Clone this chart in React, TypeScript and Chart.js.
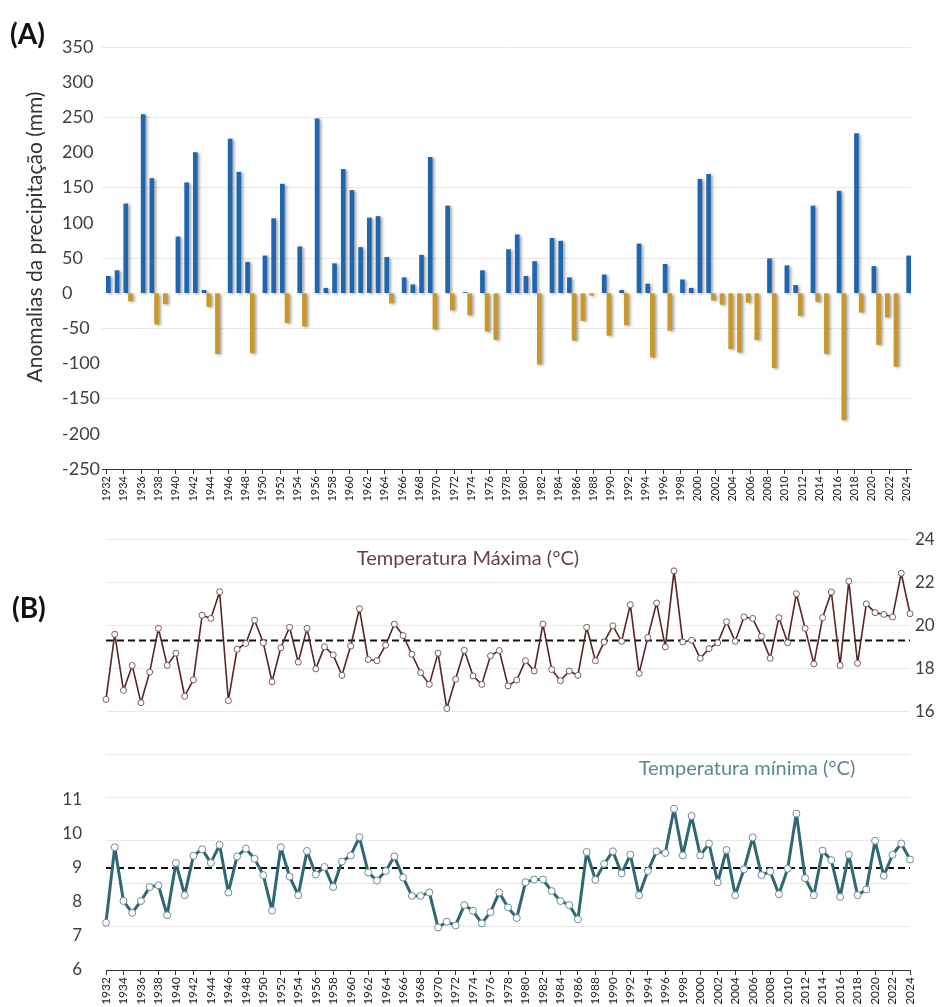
import React, { useEffect, useRef } from 'react';
import { Chart, registerables } from 'chart.js';

Chart.register(...registerables);

const FIRST_YEAR = 1932;
const LAST_YEAR = 2024;
const years: string[] = [];
for (let y = FIRST_YEAR; y <= LAST_YEAR; y++) years.push(String(y));

// Precipitation anomalies (mm), 1932..2024
const precipAnomaly = [
  24, 32, 127, -11, 254, 163, -44, -15, 80, 157,
  200, 4, -19, -86, 219, 172, 44, -85, 53, 106,
  155, -42, 66, -47, 248, 7, 42, 176, 146, 65,
  107, 109, 51, -14, 22, 12, 54, 193, -51, 124,
  -24, 1, -31, 32, -54, -66, 62, 83, 24, 45,
  -101, 78, 74, 22, -67, -39, -3, 26, -60, 4,
  -45, 70, 13, -91, 41, -53, 19, 7, 162, 169,
  -10, -16, -79, -84, -13, -66, 49, -106, 39, 11,
  -32, 124, -12, -86, 145, -180, 227, -27, 38, -73,
  -34, -104, 53,
];

// Maximum temperature (°C), 1932..2024
const tempMax = [
  16.56, 19.59, 16.98, 18.14, 16.41, 17.83, 19.86, 18.14, 18.71, 16.71,
  17.47, 20.47, 20.32, 21.56, 16.51, 18.89, 19.16, 20.24, 19.19, 17.38,
  18.96, 19.91, 18.29, 19.86, 17.98, 19.0, 18.63, 17.68, 19.04, 20.77,
  18.41, 18.36, 19.08, 20.06, 19.53, 18.66, 17.8, 17.26, 18.71, 16.14,
  17.5, 18.84, 17.65, 17.26, 18.59, 18.83, 17.19, 17.46, 18.36, 17.88,
  20.06, 17.95, 17.43, 17.88, 17.68, 19.91, 18.36, 19.23, 19.98, 19.26,
  20.96, 17.77, 19.44, 21.04, 19.0, 22.53, 19.23, 19.31, 18.47, 18.92,
  19.19, 20.17, 19.26, 20.39, 20.32, 19.49, 18.47, 20.36, 19.19, 21.47,
  19.86, 18.21, 20.36, 21.55, 18.14, 22.05, 18.24, 21.0, 20.59, 20.51,
  20.39, 22.42, 20.54,
];

// Minimum temperature (°C), 1932..2024
const tempMin = [
  7.39, 9.61, 8.03, 7.68, 8.03, 8.44, 8.49, 7.61, 9.15, 8.2,
  9.36, 9.55, 9.15, 9.68, 8.28, 9.34, 9.57, 9.27, 8.79, 7.75,
  9.61, 8.75, 8.2, 9.5, 8.81, 9.03, 8.44, 9.19, 9.37, 9.91,
  8.87, 8.63, 8.91, 9.34, 8.72, 8.18, 8.18, 8.28, 7.25, 7.42,
  7.31, 7.91, 7.74, 7.37, 7.7, 8.28, 7.84, 7.53, 8.58, 8.66,
  8.66, 8.32, 8.03, 7.91, 7.49, 9.47, 8.65, 9.12, 9.49, 8.84,
  9.39, 8.2, 8.91, 9.49, 9.44, 10.74, 9.37, 10.53, 9.37, 9.72,
  8.58, 9.53, 8.2, 8.96, 9.9, 8.79, 8.9, 8.23, 8.98, 10.6,
  8.7, 8.2, 9.51, 9.23, 8.15, 9.39, 8.2, 8.37, 9.8, 8.77,
  9.39, 9.72, 9.25,
];

const TMAX_MEAN = 19.3;
const TMIN_MEAN = 9.0;

const precipTickMin = -250;
const precipTickMax = 350;
const precipTickStep = 50;
const tmaxTickMin = 4;
const tmaxTickMax = 24;
const tmaxLabelFrom = 16;
const tminTickMin = 6;
const tminLabelTo = 11;

const BLUE = '#1f66b0';
const GOLD = '#c8982a';
const MAX_LINE = '#5a2424';
const MIN_LINE = '#2f6874';
const FONT = 'Lato, "Open Sans", sans-serif';

const barShadow = {
  id: 'barShadow',
  beforeDatasetsDraw(chart: any) {
    const ctx = chart.ctx;
    ctx.save();
    ctx.shadowColor = 'rgba(0,0,0,0.35)';
    ctx.shadowBlur = 3;
    ctx.shadowOffsetX = 2;
    ctx.shadowOffsetY = 1;
  },
  afterDatasetsDraw(chart: any) {
    chart.ctx.restore();
  },
};

const meanLines = {
  id: 'meanLines',
  beforeDatasetsDraw(chart: any) {
    const { ctx, chartArea } = chart;
    const draw = (id: string, v: number) => {
      const y = chart.scales[id].getPixelForValue(v);
      ctx.save();
      ctx.setLineDash([7, 4]);
      ctx.lineWidth = 2;
      ctx.strokeStyle = '#111';
      ctx.beginPath();
      ctx.moveTo(chartArea.left, y);
      ctx.lineTo(chartArea.right, y);
      ctx.stroke();
      ctx.restore();
    };
    draw('yR', TMAX_MEAN);
    draw('yL', TMIN_MEAN);
  },
};

const evenYearsOnly = (s: any) => {
  s.ticks = s.ticks.filter((t: any) => t.value % 2 === 0);
};

export default function App() {
  const refA = useRef<HTMLCanvasElement>(null);
  const refB = useRef<HTMLCanvasElement>(null);

  useEffect(() => {
    const negData = precipAnomaly.map((v) => (v < 0 ? v : null));
    const posData = precipAnomaly.map((v) => (v >= 0 ? v : null));

    const chartA = new Chart(refA.current as HTMLCanvasElement, {
      type: 'bar',
      data: {
        labels: years,
        datasets: [
          { label: 'neg', data: negData as any, backgroundColor: GOLD, barThickness: 4, borderWidth: 0 },
          { label: 'pos', data: posData as any, backgroundColor: BLUE, barThickness: 4, borderWidth: 0 },
        ],
      },
      options: {
        responsive: false,
        animation: false,
        layout: { padding: { left: 62, right: 34, top: 47, bottom: 0 } },
        plugins: { legend: { display: false }, tooltip: { enabled: false } },
        scales: {
          x: {
            offset: true,
            grid: { drawOnChartArea: false, offset: false, tickLength: 5, tickColor: '#333' },
            border: { display: true, color: '#333', width: 1 },
            ticks: {
              autoSkip: false,
              maxRotation: 90,
              minRotation: 90,
              padding: 2,
              color: '#222',
              font: { family: FONT, size: 11 },
            },
            afterBuildTicks: evenYearsOnly,
            afterFit: (s: any) => { s.height = 36; },
          },
          y: {
            min: precipTickMin,
            max: precipTickMax,
            ticks: {
              stepSize: precipTickStep,
              crossAlign: 'far',
              color: '#404040',
              font: { family: FONT, size: 18 },
            },
            grid: {
              drawTicks: false,
              color: (c: any) => ((c.tick.value - precipTickMin) % 100 === 0 ? '#e8e8e8' : 'rgba(0,0,0,0)'),
            },
            border: { display: false },
            afterFit: (s: any) => { s.width = 40; },
          },
        },
      },
      plugins: [barShadow],
    });

    const chartB = new Chart(refB.current as HTMLCanvasElement, {
      type: 'line',
      data: {
        labels: years,
        datasets: [
          {
            label: 'Temperatura Máxima (°C)',
            data: tempMax,
            yAxisID: 'yR',
            borderColor: MAX_LINE,
            borderWidth: 1.6,
            borderJoinStyle: 'round',
            pointRadius: 3,
            pointBackgroundColor: '#ffffff',
            pointBorderColor: '#7a5a5a',
            pointBorderWidth: 1,
            tension: 0,
            clip: false as any,
          },
          {
            label: 'Temperatura mínima (°C)',
            data: tempMin,
            yAxisID: 'yL',
            borderColor: MIN_LINE,
            borderWidth: 3,
            borderJoinStyle: 'round',
            pointRadius: 3.5,
            pointBackgroundColor: '#ffffff',
            pointBorderColor: '#6a8d95',
            pointBorderWidth: 1,
            tension: 0,
            clip: false as any,
          },
        ],
      },
      options: {
        responsive: false,
        animation: false,
        layout: { padding: { left: 0, right: 0, top: 22, bottom: 0 } },
        plugins: { legend: { display: false }, tooltip: { enabled: false } },
        scales: {
          x: {
            offset: false,
            grid: { drawOnChartArea: false, tickLength: 5, tickColor: '#333' },
            border: { display: true, color: '#333', width: 1 },
            ticks: {
              autoSkip: false,
              maxRotation: 90,
              minRotation: 90,
              padding: 2,
              color: '#222',
              font: { family: FONT, size: 12 },
            },
            afterBuildTicks: evenYearsOnly,
            afterFit: (s: any) => { s.height = 37; },
          },
          yL: {
            position: 'left',
            min: tminTickMin,
            max: 18.67,
            ticks: {
              stepSize: 1,
              padding: 24,
              color: '#404040',
              font: { family: FONT, size: 17 },
              callback: (v: any) => (v <= tminLabelTo && Number.isInteger(v) ? String(v) : ''),
            },
            grid: { display: false, drawTicks: false },
            border: { display: false },
            afterFit: (s: any) => { s.width = 106; },
          },
          yR: {
            position: 'right',
            min: tmaxTickMin,
            max: tmaxTickMax,
            ticks: {
              stepSize: 2,
              padding: 5,
              color: '#404040',
              font: { family: FONT, size: 17 },
              callback: (v: any) => (v >= tmaxLabelFrom ? String(v) : ''),
            },
            grid: {
              drawTicks: false,
              color: (c: any) => (c.tick.value > tmaxTickMin ? '#e8e8e8' : 'rgba(0,0,0,0)'),
            },
            border: { display: false },
            afterFit: (s: any) => { s.width = 35; },
          },
        },
      },
      plugins: [meanLines],
    });

    return () => {
      chartA.destroy();
      chartB.destroy();
    };
  }, []);

  const abs = (extra: React.CSSProperties): React.CSSProperties => ({
    position: 'absolute',
    whiteSpace: 'nowrap',
    fontFamily: FONT,
    ...extra,
  });

  return (
    <div style={{ position: 'absolute', left: 0, top: 0, width: 945, height: 1007, background: '#fff', overflow: 'hidden' }}>
      <canvas ref={refA} width={945} height={505} style={{ position: 'absolute', left: 0, top: 0 }} />
      <canvas ref={refB} width={945} height={502} style={{ position: 'absolute', left: 0, top: 505 }} />
      <div style={abs({ left: 10, top: 16, fontSize: 28, fontWeight: 700, color: '#111' })}>(A)</div>
      <div style={abs({ left: 12, top: 590, fontSize: 28, fontWeight: 700, color: '#111' })}>(B)</div>
      <div
        style={abs({
          left: 33,
          top: 237,
          fontSize: 21,
          color: '#333',
          transform: 'translate(-50%, -50%) rotate(-90deg)',
        })}
      >
        Anomalias da precipitação (mm)
      </div>
      <div style={abs({ left: 468, top: 557, fontSize: 20, color: '#6d3f3f', transform: 'translate(-50%, -50%)' })}>
        Temperatura Máxima (°C)
      </div>
      <div style={abs({ left: 747, top: 767, fontSize: 20, color: '#5a8890', transform: 'translate(-50%, -50%)' })}>
        Temperatura mínima (°C)
      </div>
    </div>
  );
}
